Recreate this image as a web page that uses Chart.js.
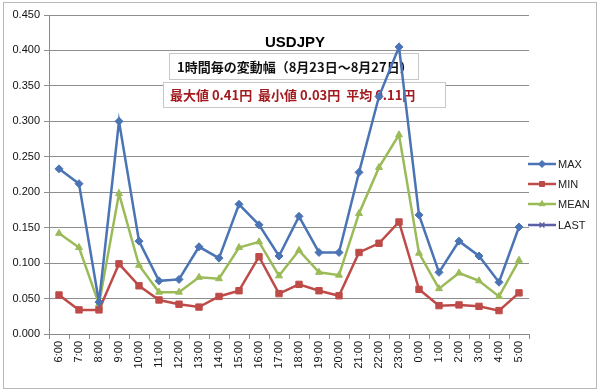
<!DOCTYPE html>
<html>
<head>
<meta charset="utf-8">
<script src="https://cdn.jsdelivr.net/npm/chart.js@4"></script>
<style>
  body { margin: 0; background: #fff; }
  #wrap { position: absolute; left: 3px; top: 2px; width: 594px; height: 387px; border: 1px solid #b8b8b8; box-sizing: border-box; }
  canvas { display: block; }
</style>
</head>
<body>
<div id="wrap"><canvas id="myChart" width="592" height="385"></canvas></div>
<script>
const hours = ["6:00", "7:00", "8:00", "9:00", "10:00", "11:00", "12:00", "13:00", "14:00", "15:00", "16:00", "17:00",
  "18:00", "19:00", "20:00", "21:00", "22:00", "23:00", "0:00", "1:00", "2:00", "3:00", "4:00", "5:00"];

const maxValues = [0.233, 0.212, 0.045, 0.300, 0.131, 0.075, 0.077, 0.123, 0.107, 0.183, 0.154, 0.110,
  0.166, 0.115, 0.115, 0.228, 0.335, 0.405, 0.168, 0.087, 0.131, 0.110, 0.073, 0.151];
const minValues = [0.055, 0.034, 0.034, 0.099, 0.068, 0.048, 0.042, 0.038, 0.053, 0.061, 0.109, 0.057,
  0.070, 0.061, 0.054, 0.115, 0.128, 0.158, 0.063, 0.040, 0.041, 0.039, 0.033, 0.058];
const meanValues = [0.142, 0.122, 0.042, 0.198, 0.097, 0.059, 0.059, 0.080, 0.078, 0.122, 0.130, 0.082,
  0.118, 0.087, 0.083, 0.170, 0.235, 0.281, 0.114, 0.064, 0.086, 0.075, 0.053, 0.104];
const lastValues = hours.map(() => null);

const seriesNames = ["MAX", "MIN", "MEAN", "LAST"];
const yTicks = [0, 0.05, 0.1, 0.15, 0.2, 0.25, 0.3, 0.35, 0.4, 0.45];

const chartTitle = "USDJPY";
const subTitle = "1時間毎の変動幅（8月23日～8月27日）";
const statsText = "最大値 0.41円  最小値 0.03円  平均 0.11円";

const colors = ["#4a74b4", "#be4b48", "#9bbb59", "#5b5fa3"];
const markers = ["rectRot", "rect", "triangle", "crossRot"];
const font = "'Liberation Sans', Arial, sans-serif";

const makeSet = (label, data, i) => ({
  label: label,
  data: data,
  borderColor: colors[i],
  backgroundColor: colors[i],
  borderWidth: 2.5,
  pointStyle: markers[i],
  pointRadius: i === 1 ? 4.5 : 4,
  pointBorderWidth: i === 3 ? 1.5 : 1,
  pointBorderColor: colors[i],
  tension: 0,
});

// boxes with text under the lines, legend on the right
const overlay = {
  id: "overlay",
  beforeDatasetsDraw(chart) {
    const ctx = chart.ctx;
    ctx.save();
    ctx.fillStyle = "#000";
    ctx.font = "bold 15px " + font;
    ctx.textAlign = "center";
    ctx.textBaseline = "middle";
    ctx.fillText(chartTitle, 291, 40);

    ctx.fillStyle = "#fff";
    ctx.strokeStyle = "#c8c8c8";
    ctx.lineWidth = 1;
    ctx.fillRect(165.5, 50.5, 249, 26);
    ctx.strokeRect(165.5, 50.5, 249, 26);
    ctx.fillRect(159.5, 79.5, 282, 25);
    ctx.strokeRect(159.5, 79.5, 282, 25);

    ctx.textAlign = "left";
    ctx.fillStyle = "#111";
    ctx.font = "bold 13px 'Noto Sans CJK JP', sans-serif";
    ctx.fillText(subTitle, 173, 64);
    ctx.fillStyle = "#a3191d";
    ctx.fillText(statsText, 166, 92);
    ctx.restore();
  },
  afterDraw(chart) {
    const ctx = chart.ctx;
    ctx.save();
    chart.data.datasets.forEach((ds, i) => {
      const y = [161, 181, 201, 222][i];
      ctx.strokeStyle = ds.borderColor;
      ctx.lineWidth = 2.5;
      ctx.beginPath();
      ctx.moveTo(524, y);
      ctx.lineTo(552, y);
      ctx.stroke();
      ctx.fillStyle = ds.borderColor;
      ctx.lineWidth = ds.pointBorderWidth;
      Chart.helpers.drawPoint(ctx, { pointStyle: ds.pointStyle, radius: 3.5, borderWidth: ds.pointBorderWidth }, 538, y);
      ctx.fillStyle = "#222";
      ctx.font = "11px " + font;
      ctx.textAlign = "left";
      ctx.textBaseline = "middle";
      ctx.fillText(ds.label, 554, y + 1);
    });
    ctx.restore();
  },
};

new Chart(document.getElementById("myChart"), {
  type: "line",
  data: {
    labels: hours,
    datasets: [
      makeSet(seriesNames[0], maxValues, 0),
      makeSet(seriesNames[1], minValues, 1),
      makeSet(seriesNames[2], meanValues, 2),
      makeSet(seriesNames[3], lastValues, 3),
    ],
  },
  options: {
    responsive: false,
    animation: false,
    layout: { padding: { left: 0, top: 12, right: 67, bottom: 0 } },
    plugins: {
      legend: { display: false },
      tooltip: { enabled: false },
    },
    scales: {
      x: {
        offset: true,
        grid: {
          offset: true,
          drawOnChartArea: false,
          color: "#8a8a8a",
          tickLength: 5,
        },
        border: { color: "#8a8a8a", width: 1 },
        ticks: {
          color: "#111",
          font: { family: font, size: 11 },
          minRotation: 90,
          maxRotation: 90,
          autoSkip: false,
          padding: 2,
        },
        afterFit(scale) {
          scale.height = 54;
        },
      },
      y: {
        min: 0,
        max: 0.45,
        afterBuildTicks(scale) {
          scale.ticks = yTicks.map((v) => ({ value: v }));
        },
        grid: {
          color: "#8e8e8e",
          lineWidth: 1,
          tickLength: 5,
        },
        border: { color: "#8a8a8a", width: 1 },
        ticks: {
          color: "#111",
          font: { family: font, size: 11 },
          padding: 4,
          callback: (v) => Number(v).toFixed(3),
        },
        afterFit(scale) {
          scale.width = 45;
        },
      },
    },
  },
  plugins: [overlay],
});
</script>
</body>
</html>
